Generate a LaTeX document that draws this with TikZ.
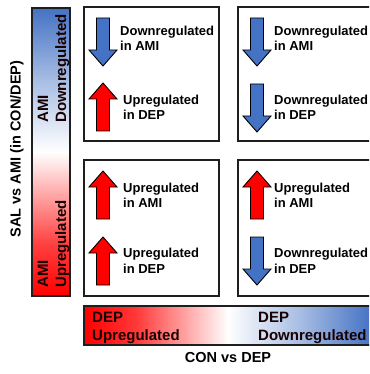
\documentclass[tikz,border=0pt]{standalone}
\usepackage{fontspec}
\setmainfont{Liberation Sans}
\definecolor{upred}{RGB}{255,0,0}
\definecolor{dnblue}{RGB}{68,114,196}
\definecolor{frame}{RGB}{30,30,30}
\pgfdeclarehorizontalshading{hbarshade}{100bp}{color(0bp)=(upred); color(25bp)=(upred); color(34bp)=(upred!78!white); color(50bp)=(white); color(62bp)=(dnblue!45!white); color(75bp)=(dnblue); color(100bp)=(dnblue)}
\pgfdeclareverticalshading{vbarshade}{100bp}{color(0bp)=(upred); color(25bp)=(upred); color(34bp)=(upred!75!white); color(50bp)=(white); color(62bp)=(dnblue!45!white); color(75bp)=(dnblue); color(100bp)=(dnblue)}
\tikzset{
  panel/.style={draw=frame, line width=1.6pt},
  bartext/.style={font=\bfseries\fontsize{15}{18}\selectfont, inner sep=0pt, text=black!90!red},
  boxtext/.style={font=\bfseries\fontsize{13}{15}\selectfont, inner sep=0pt, anchor=base west, text=black},
  axislabel/.style={font=\bfseries\fontsize{14.5}{17}\selectfont, inner sep=0pt, text=black},
  arrowshape/.style={draw=black, line width=0.9pt, line join=miter},
  downarr/.pic={\path[arrowshape, fill=dnblue] (-6.5,-24) -- (6.5,-24) -- (6.5,8) -- (14,8) -- (0,24) -- (-14,8) -- (-6.5,8) -- cycle;},
  uparr/.pic={\path[arrowshape, fill=upred] (-6.5,24) -- (6.5,24) -- (6.5,-8) -- (14,-8) -- (0,-24) -- (-14,-8) -- (-6.5,-8) -- cycle;}
}
\begin{document}
\begin{tikzpicture}[x=1pt, y=-1pt]
\useasboundingbox (0,0) rectangle (369,374);
\clip (0,0) rectangle (369,374);
\fill[white] (0,0) rectangle (369,374);

% vertical colour bar
\shade[shading=vbarshade] (32,8) rectangle (70,296);
\draw[draw=frame, line width=1.3pt] (32,8) rectangle (70,296);
\node[bartext, rotate=90, anchor=base west] (vami1) at (48,123) {AMI};
\node[bartext, rotate=90, anchor=base west] (vdown) at (66,123) {Downregulated};
\node[bartext, rotate=90, anchor=base west] (vami2) at (48,288) {AMI};
\node[bartext, rotate=90, anchor=base west] (vup) at (66,288) {Upregulated};

% horizontal colour bar
\shade[shading=hbarshade] (84,306) rectangle (372,345);
\draw[draw=frame, line width=1.3pt] (84,306) rectangle (372,345);
\node[bartext, anchor=base west] (hdep1) at (92,322) {DEP};
\node[bartext, anchor=base west] (hup) at (92,340) {Upregulated};
\node[bartext, anchor=base west] (hdep2) at (258,322) {DEP};
\node[bartext, anchor=base west] (hdown) at (258,340) {Downregulated};

% axis labels
\node[axislabel, rotate=90] (ylab) at (17,149) {SAL vs AMI (in CON/DEP)};
\node[axislabel, anchor=base] (xlab) at (228,362) {CON vs DEP};

% panels
\draw[panel] (84,7) rectangle (219,141);
\draw[panel] (238,7) rectangle (373,141);
\draw[panel] (84,160) rectangle (219,296);
\draw[panel] (238,160) rectangle (373,296);

% top-left panel
\pic at (103,42) {downarr};
\pic at (103,107) {uparr};
\node[boxtext] (tl1a) at (120,36) {Downregulated};
\node[boxtext] (tl1b) at (120,51) {in AMI};
\node[boxtext] (tl2a) at (123,105) {Upregulated};
\node[boxtext] (tl2b) at (123,120) {in DEP};

% top-right panel
\pic at (257,42) {downarr};
\pic at (257,108) {downarr};
\node[boxtext] (tr1a) at (274,36) {Downregulated};
\node[boxtext] (tr1b) at (274,51) {in AMI};
\node[boxtext] (tr2a) at (274,105) {Downregulated};
\node[boxtext] (tr2b) at (274,120) {in DEP};

% bottom-left panel
\pic at (103,195) {uparr};
\pic at (103,261) {uparr};
\node[boxtext] (bl1a) at (123,192) {Upregulated};
\node[boxtext] (bl1b) at (123,207) {in AMI};
\node[boxtext] (bl2a) at (123,257) {Upregulated};
\node[boxtext] (bl2b) at (123,273) {in DEP};

% bottom-right panel
\pic at (257,195) {uparr};
\pic at (257,261) {downarr};
\node[boxtext] (br1a) at (274,192) {Upregulated};
\node[boxtext] (br1b) at (274,207) {in AMI};
\node[boxtext] (br2a) at (274,257) {Downregulated};
\node[boxtext] (br2b) at (274,273) {in DEP};
\end{tikzpicture}
\end{document}
